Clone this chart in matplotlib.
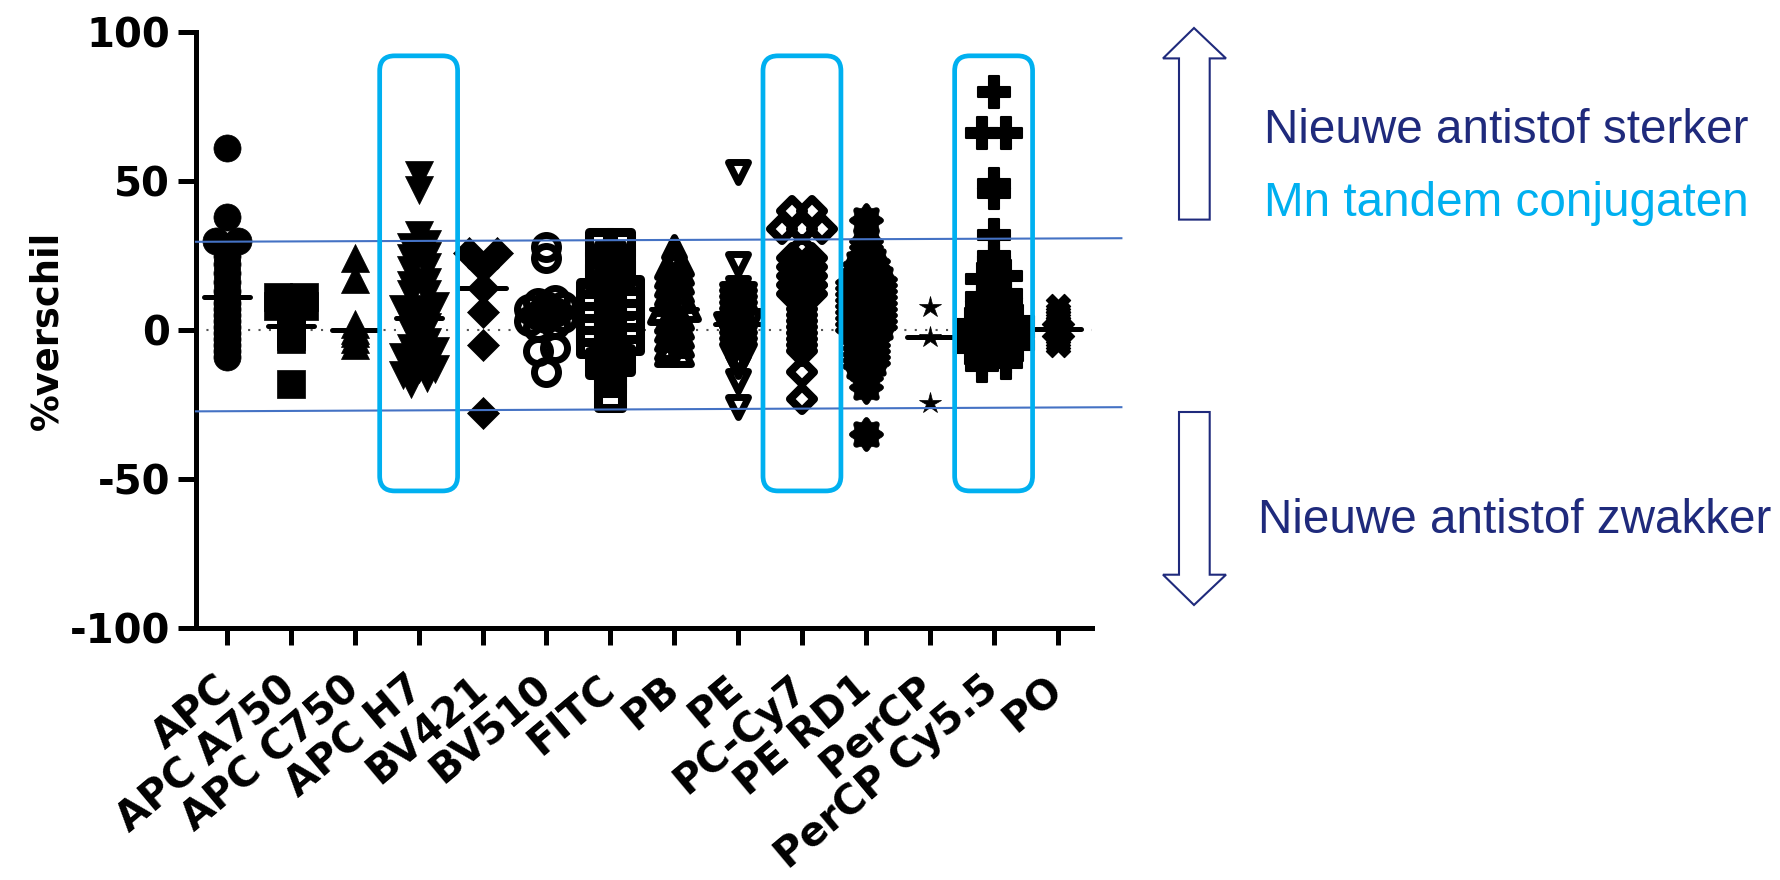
import numpy as np
import matplotlib
matplotlib.use("Agg")
import matplotlib.pyplot as plt
from matplotlib.patches import FancyBboxPatch, Polygon
from matplotlib.markers import MarkerStyle
from matplotlib.path import Path

plt.rcParams['font.family'] = ['DejaVu Sans']
plt.rcParams['axes.unicode_minus'] = False

# ---------------------------------------------------------
# Data: % verschil nieuwe vs oude antistof, per conjugaat
# ---------------------------------------------------------
categories = ['APC', 'APC A750', 'APC C750', 'APC H7', 'BV421', 'BV510', 'FITC',
              'PB', 'PE', 'PC-Cy7', 'PE RD1', 'PerCP', 'PerCP Cy5.5', 'PO']

apc = [61, 38, 30, 30, 28, 25, 22, 19, 16, 13, 11, 9, 7, 5, 3, 1, -1, -3, -5, -7, -9]
apc_a750 = [11, 11, 8, 8, 5, 2, 1, 0, -1, -2, -3, -18]
apc_c750 = [24, 17, 2, 0, -1, -3, -5]
apc_h7 = [52, 47, 32, 29, 28, 25, 24, 21, 20, 16, 15, 12, 12, 8, 7, 7, 4, 3, 1, 0, -3, -4,
          -6, -7, -9, -9, -10, -12, -13, -13, -15, -16, -18]
bv421 = [26, 26, 21, 14, 6, -5, -28]
bv510 = [28, 24, 10, 9, 8, 8, 7, 6, 5, 4, 4, 3, 2, 1, -6, -7, -14]
fitc = [29, 29, 25, 23, 22, 19, 18, 16, 13, 13, 12, 10, 9, 9, 8, 6, 5, 4, 4, 2, 1, 1, 0, -2,
        -3, -3, -4, -6, -8, -10, -11, -13, -15, -17, -22]
pb = [28, 25, 22, 21, 19, 18, 16, 15, 13, 12, 10, 9, 7, 7, 6, 4, 3, 1, 0, -2, -3, -5, -6,
      -8, -8]
pe = [53, 22, 14, 12, 12, 10, 10, 8, 8, 6, 6, 4, 4, 3, 2, 2, 0, 0, -2, -2, -4, -4, -6, -6,
      -8, -8, -10, -12, -17, -26]
pc_cy7 = [40, 40, 34, 34, 34, 27, 24, 24, 21, 21, 18, 18, 15, 15, 12, 12, 9, 7, 5, 3, 1, -1,
          -3, -5, -7, -14, -23]
pe_rd1 = [37, 30, 28, 26, 24, 23, 22, 21, 20, 19, 18, 17, 17, 16, 15, 15, 14, 13, 13, 12, 11,
          11, 10, 9, 9, 8, 7, 7, 6, 5, 5, 4, 3, 3, 2, 1, 1, 0, -1, -2, -3, -4, -5, -6, -7, -8,
          -9, -10, -11, -12, -14, -16, -19, -35]
percp = [7.6, -2.5, -24.4]
percp_cy55 = [80, 66, 66, 49, 46, 32, 25, 23, 18, 17, 14, 12, 11, 9, 8, 6, 5, 4, 3, 3, 2, 1,
              0, -1, -1, -2, -3, -4, -5, -6, -6, -7, -8, -9, -10, -11, -12]
po = [8, 6, 5, 4, 3, 2, 1, 0, 0, -1, -2, -3, -4, -5]

series = [apc, apc_a750, apc_c750, apc_h7, bv421, bv510, fitc, pb, pe, pc_cy7, pe_rd1,
          percp, percp_cy55, po]

yticks = [-100, -50, 0, 50, 100]
tandem = ['APC H7', 'PC-Cy7', 'PerCP Cy5.5']
# blauwe grenslijnen (links, rechts)
grens_boven = [29.6, 30.8]
grens_onder = [-27.3, -25.9]

NAVY = '#1F2A7C'
CYAN = '#00B0F0'

# marker per conjugaat (Prism volgorde)
# gap = horizontale afstand (px) binnen een rij, row = rijhoogte (px)
t = np.linspace(0, 2 * np.pi, 121)
r = 1 + 0.13 * np.cos(8 * t)
flower = Path(np.column_stack([r * np.cos(t), r * np.sin(t)]), closed=True)

styles = [
    dict(marker='o', ms=19.5, mfc='k', mew=0.5, gap=22, row=2.5),
    dict(marker='s', ms=19.5, mfc='k', mew=0.5, gap=26, row=2.5),
    dict(marker='^', ms=19.5, mfc='k', mew=0.5, gap=20, row=2.5),
    dict(marker='v', ms=19.5, mfc='k', mew=0.5, gap=16, row=6),
    dict(marker='D', ms=16.3, mfc='k', mew=0.5, gap=28, row=2.5),
    dict(marker='o', ms=17.3, mfc='none', mew=5, gap=17, row=5),
    dict(marker='s', ms=17.3, mfc='none', mew=6.5, gap=18, row=5),
    dict(marker='^', ms=15, mfc='none', mew=5, gap=14, row=5),
    dict(marker='v', ms=15, mfc='none', mew=5, gap=12, row=4),
    dict(marker='D', ms=12.5, mfc='none', mew=5.8, gap=20, row=4),
    dict(marker=flower, ms=24.5, mfc='k', mew=0.5, gap=14, row=5),
    dict(marker='*', ms=16, mfc='k', mew=0.5, gap=14, row=2.5),
    dict(marker='P', ms=23, mfc='k', mew=1.5, gap=24, row=5),
    dict(marker='X', ms=17, mfc='k', mew=1.0, gap=8, row=2.5),
]


def rows_offsets(vals, gap_px, row_px, px_x, px_y):
    # Prism-achtige kolom-scatter: punten binnen een rij naast elkaar zetten
    vals = np.asarray(vals, dtype=float)
    order = np.argsort(vals)
    offs = np.zeros(len(vals))
    groups, cur = [], [order[0]]
    for idx in order[1:]:
        if (vals[idx] - vals[cur[0]]) * px_y <= row_px:
            cur.append(idx)
        else:
            groups.append(cur)
            cur = [idx]
    groups.append(cur)
    for g in groups:
        n = len(g)
        for j, idx in enumerate(g):
            offs[idx] = (j - (n - 1) / 2) * gap_px / px_x
    return offs


fig = plt.figure(figsize=(17.8, 8.8), dpi=100)
ax = fig.add_axes([196 / 1780, 1 - 628 / 880, 896 / 1780, 596 / 880])
ax.set_xlim(-0.485, 13.54)
ax.set_ylim(-100, 100)

p0 = ax.transData.transform((0, 0))
p1 = ax.transData.transform((1, 1))
px_x, px_y = p1 - p0

ax.axhline(0, color='#555555', lw=1.5, ls=(0, (1, 4)), zorder=1)

for i, (vals, st) in enumerate(zip(series, styles)):
    offs = rows_offsets(vals, st['gap'], st['row'], px_x, px_y)
    mk = MarkerStyle(st['marker'], joinstyle='round')
    ax.plot(i + offs, vals, ls='none', marker=mk, ms=st['ms'],
            mfc=st['mfc'], mec='k', mew=st['mew'], zorder=2, clip_on=False)
    ax.hlines(np.median(vals), i - 0.36, i + 0.36, colors='k', lw=3.6,
              capstyle='round', zorder=3)

for side in ['top', 'right']:
    ax.spines[side].set_visible(False)
for side in ['left', 'bottom']:
    ax.spines[side].set_linewidth(3.6)

ax.set_yticks(yticks)
ax.set_yticklabels([str(v) for v in yticks])
ax.set_xticks(range(len(categories)))
ax.set_xticklabels(categories, rotation=40, ha='right', va='center', rotation_mode='anchor')
ax.tick_params(axis='y', direction='out', length=13, width=3.6, pad=5.8,
               labelsize=29)
ax.tick_params(axis='x', direction='out', length=12.2, width=3.6, pad=28,
               labelsize=29)
for lab in ax.get_xticklabels() + ax.get_yticklabels():
    lab.set_fontweight('bold')

ax.set_ylabel('%verschil', fontsize=26.5, fontweight='bold')
ax.yaxis.set_label_coords(-0.146, 0.5)

# blauwe grenslijnen
ax.plot([-0.485, 14.0], grens_boven, color='#4472C4', lw=1.5, clip_on=False, zorder=5)
ax.plot([-0.485, 14.0], grens_onder, color='#4472C4', lw=1.5, clip_on=False, zorder=5)

# kaders rond de tandem conjugaten (in inches, zodat de hoeken rond blijven)
dpi = fig.dpi
for name in tandem:
    i = categories.index(name)
    (x0, y0), (x1, y1) = ax.transData.transform([(i - 0.61, -54), (i + 0.61, 92)])
    box = FancyBboxPatch((x0 / dpi, y0 / dpi), (x1 - x0) / dpi, (y1 - y0) / dpi,
                         boxstyle='round,pad=0,rounding_size=0.15',
                         transform=fig.dpi_scale_trans, fill=False,
                         edgecolor=CYAN, lw=3.4, zorder=6)
    fig.add_artist(box)


def inch(x, y):
    return (x / 100, (880 - y) / 100)


up = [(1194, 28), (1226, 58.4), (1209.7, 58.4), (1209.7, 219.6), (1179, 219.6),
      (1179, 58.4), (1163, 58.4)]
down = [(1194, 605), (1226, 574.7), (1209.7, 574.7), (1209.7, 412), (1179, 412),
        (1179, 574.7), (1163, 574.7)]
for arr in (up, down):
    fig.add_artist(Polygon([inch(x, y) for x, y in arr], closed=True,
                           transform=fig.dpi_scale_trans, facecolor='white',
                           edgecolor=NAVY, lw=1.5))

fig.text(*inch(1264, 143), 'Nieuwe antistof sterker', color=NAVY, fontsize=34.3,
         va='baseline', ha='left', family='Liberation Sans', transform=fig.dpi_scale_trans)
fig.text(*inch(1264, 216), 'Mn tandem conjugaten', color=CYAN, fontsize=34.3,
         va='baseline', ha='left', family='Liberation Sans', transform=fig.dpi_scale_trans)
fig.text(*inch(1258, 532.7), 'Nieuwe antistof zwakker', color=NAVY, fontsize=34.3,
         va='baseline', ha='left', family='Liberation Sans', transform=fig.dpi_scale_trans)

fig.savefig('out.png', dpi=100)
